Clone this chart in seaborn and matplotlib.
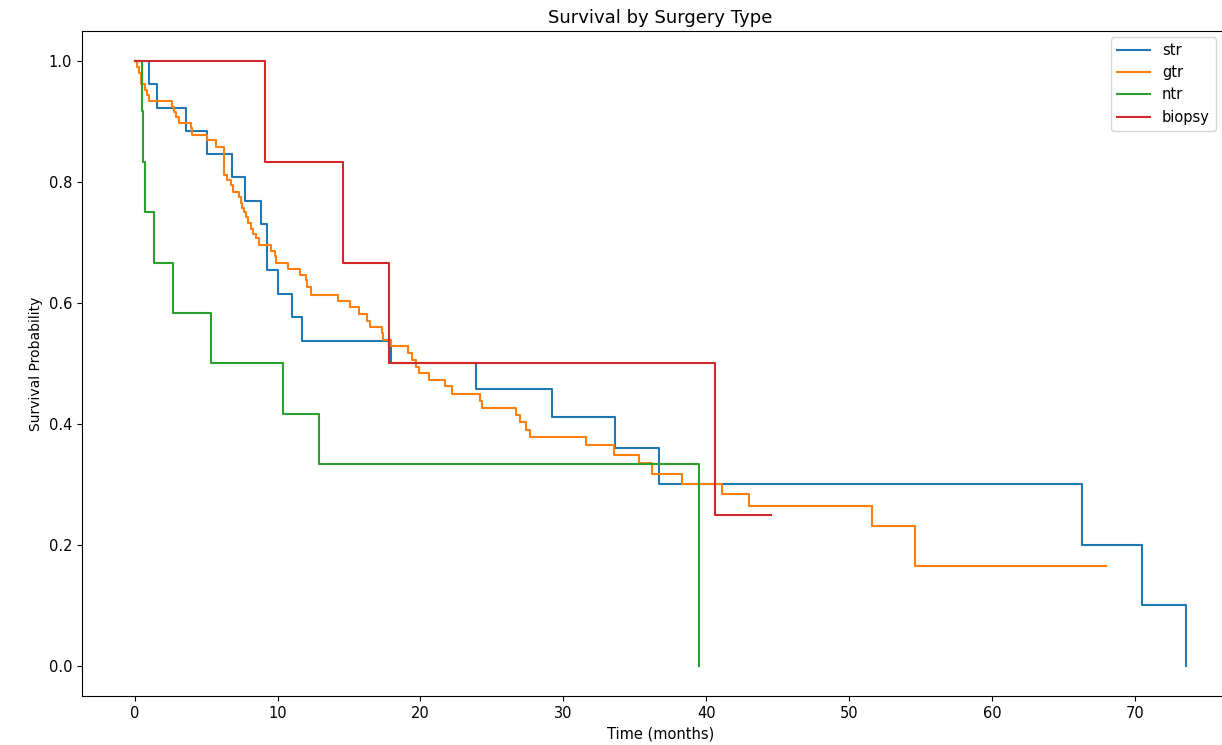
import numpy as np
import pandas as pd
import matplotlib
matplotlib.use("Agg")
import matplotlib.pyplot as plt
import seaborn as sns

groups = ["str", "gtr", "ntr", "biopsy"]

str_t = [0, 1.0, 1.54, 3.57, 5.08, 6.79, 7.7, 8.87, 9.3, 10.05, 11.0, 11.73, 17.96,
         23.9, 29.2, 33.6, 36.7, 66.3, 70.5, 73.6]
str_s = [1.0, 0.962, 0.923, 0.885, 0.846, 0.808, 0.769, 0.731, 0.654, 0.615, 0.577,
         0.538, 0.5, 0.458, 0.412, 0.361, 0.3, 0.2, 0.1, 0.0]

gtr_t = [0, 0.2, 0.3, 0.45, 0.7, 0.84, 1.0, 2.64, 2.75, 2.92, 3.1, 3.97, 4.04, 5.04,
         5.67, 6.25, 6.5, 6.72, 6.88, 7.3, 7.42, 7.54, 7.65, 7.82, 7.96, 8.12, 8.28,
         8.47, 8.7, 9.57, 9.82, 9.92, 10.76, 11.55, 11.97, 12.09, 12.32, 14.22, 15.1,
         15.7, 16.24, 16.5, 17.29, 17.4, 17.92, 19.1, 19.44, 19.67, 19.9, 20.6, 21.7,
         22.2, 24.2, 24.3, 26.7, 27.0, 27.4, 27.65, 31.6, 33.55, 35.3, 36.2, 38.3,
         41.1, 43.0, 51.6, 54.6, 68.0]
gtr_s = [1.0, 0.991, 0.981, 0.963, 0.952, 0.944, 0.934, 0.925, 0.916, 0.908, 0.897,
         0.889, 0.878, 0.869, 0.858, 0.812, 0.803, 0.795, 0.784, 0.776, 0.766, 0.758,
         0.751, 0.742, 0.732, 0.723, 0.715, 0.707, 0.696, 0.686, 0.677, 0.667, 0.657,
         0.646, 0.638, 0.627, 0.613, 0.604, 0.594, 0.582, 0.571, 0.561, 0.55, 0.539,
         0.529, 0.518, 0.506, 0.495, 0.484, 0.473, 0.462, 0.449, 0.438, 0.426, 0.415,
         0.404, 0.39, 0.378, 0.365, 0.349, 0.336, 0.317, 0.3, 0.284, 0.265, 0.231,
         0.165, 0.165]

ntr_t = [0, 0.5, 0.6, 0.75, 1.35, 2.68, 5.38, 10.4, 12.9, 39.5]
ntr_s = [1.0, 0.917, 0.833, 0.75, 0.667, 0.583, 0.5, 0.417, 0.333, 0.0]

biopsy_t = [0, 9.1, 14.6, 17.8, 40.6, 44.5]
biopsy_s = [1.0, 0.833, 0.667, 0.5, 0.25, 0.25]

series = {"str": (str_t, str_s), "gtr": (gtr_t, gtr_s),
          "ntr": (ntr_t, ntr_s), "biopsy": (biopsy_t, biopsy_s)}

frames = []
for g in groups:
    t, s = series[g]
    frames.append(pd.DataFrame({"time": t, "survival": s, "group": g}))
df = pd.concat(frames, ignore_index=True)

palette = dict(zip(groups, sns.color_palette("tab10", 4)))

fig = plt.figure(figsize=(12.22, 7.45), dpi=100)
ax = fig.add_axes([82 / 1222, 49 / 745, 1157 / 1222, 665 / 745])

sns.lineplot(data=df, x="time", y="survival", hue="group", hue_order=groups,
             palette=palette, estimator=None, sort=False, drawstyle="steps-post",
             linewidth=1.5, ax=ax)

ax.set_title("Survival by Surgery Type", fontsize=13)
ax.set_xlabel("Time (months)", fontsize=10.5)
ax.set_ylabel("Survival Probability", fontsize=10)
ax.tick_params(labelsize=10.5)
sns.move_legend(ax, "upper left", title=None, fontsize=10.5,
                bbox_to_anchor=(1111 / 1222, 1 - 37 / 745),
                bbox_transform=fig.transFigure, borderaxespad=0,
                handlelength=2.3)

fig.savefig("out.png", dpi=100)
